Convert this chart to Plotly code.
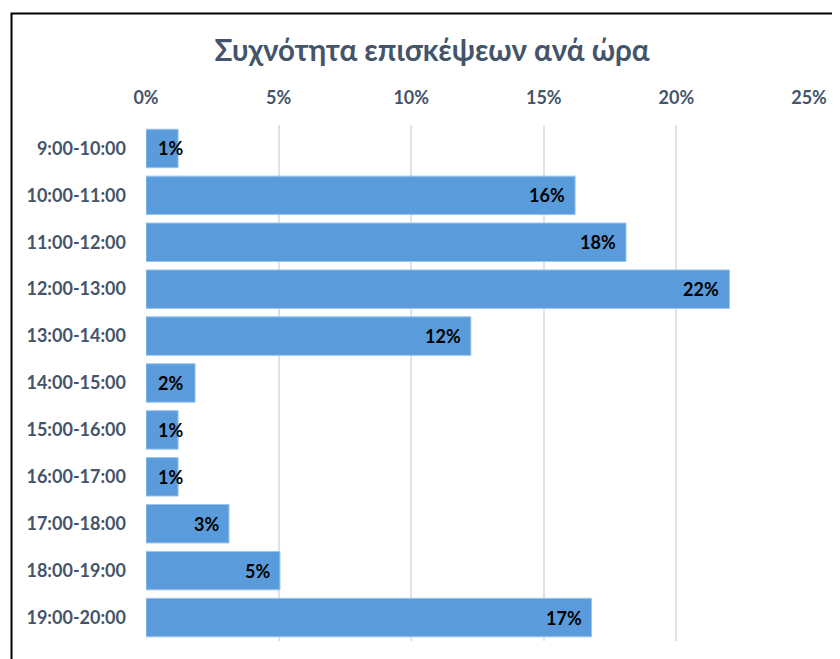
import plotly.graph_objects as go

hours = ['9:00-10:00', '10:00-11:00', '11:00-12:00', '12:00-13:00', '13:00-14:00',
         '14:00-15:00', '15:00-16:00', '16:00-17:00', '17:00-18:00', '18:00-19:00',
         '19:00-20:00']
share = [0.0121, 0.1618, 0.1810, 0.2200, 0.1225, 0.0185, 0.0121, 0.0121, 0.0313,
         0.0505, 0.1680]

title_text = 'Συχνότητα επισκέψεων ανά ώρα'
font_family = 'Lato, Noto Sans, sans-serif'
slate = '#44546a'

# the page body has an 8px margin, so everything is placed 8px up/left of the target
OFF = 8
W, H = 840, 659
L, T = 146 - OFF, 125 - OFF
R = W + OFF - 809
B = H + OFF - 641.5
pw, ph = W - L - R, H - T - B

fig = go.Figure()
fig.add_trace(go.Bar(
    y=hours,
    x=share,
    orientation='h',
    width=0.82,
    marker=dict(color='#5a9bdb', line=dict(color='#9cc4ec', width=1)),
    hoverinfo='x+y',
))

# data labels, "inside end" like Excel; short bars get their label clamped to the left
annotations = []
for h, v in zip(hours, share):
    fits = v * pw / 0.25 > 50
    annotations.append(dict(
        x=v if fits else 0, y=h, xref='x', yref='y',
        text=f'<b>{v:.0%}</b>', showarrow=False,
        xanchor='right' if fits else 'left',
        xshift=-8 if fits else 10,
        font=dict(family=font_family, size=18, color='black'),
    ))

fig.update_layout(
    width=W, height=H,
    margin=dict(l=L, r=R, t=T, b=B),
    paper_bgcolor='white',
    plot_bgcolor='white',
    showlegend=False,
    title=dict(
        text=f'<b>{title_text}</b>',
        x=(432 - OFF - L) / pw, xref='paper', xanchor='center',
        y=1 - (51 - OFF) / H, yref='container', yanchor='middle',
        font=dict(family=font_family, size=29.5, color=slate),
    ),
    font=dict(family=font_family, color=slate),
    annotations=annotations,
    shapes=[dict(
        type='rect', xref='paper', yref='paper',
        x0=(11.5 - OFF - L) / pw, x1=1.3,
        y0=-0.3, y1=(H - B - (13.5 - OFF)) / ph,
        line=dict(color='black', width=2),
        layer='above',
    )],
)

fig.update_xaxes(
    side='top',
    range=[0, 0.25],
    dtick=0.05,
    tickformat='.0%',
    showgrid=True,
    gridcolor='#dfe3e9',
    gridwidth=1.5,
    zeroline=False,
    showline=False,
    ticks='',
    automargin=False,
    ticklabelstandoff=16,
    tickfont=dict(family=font_family, size=18, color=slate, weight='bold'),
    fixedrange=True,
)
fig.update_yaxes(
    autorange='reversed',
    showgrid=False,
    showline=False,
    ticks='',
    automargin=False,
    ticklabelstandoff=19,
    tickfont=dict(family=font_family, size=18, color=slate, weight='bold'),
    fixedrange=True,
)

fig.write_html('out.html')
